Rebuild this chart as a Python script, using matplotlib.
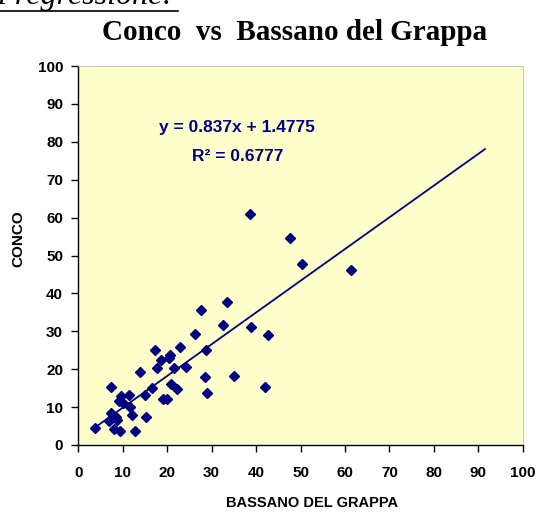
import numpy as np
import matplotlib.pyplot as plt
from matplotlib.lines import Line2D

# --- data ---
bassano = [3.75, 7.3, 7.0, 7.4, 7.8, 8.0, 8.5, 8.8, 9.4, 9.1, 9.5, 10.1,
           11.5, 11.7, 12.1, 12.8, 13.9, 14.9, 15.2, 16.5, 17.3, 17.6, 18.5,
           19.1, 20.0, 20.3, 20.6, 20.9, 21.5, 22.3, 22.8, 24.3, 26.2, 27.6,
           28.4, 28.8, 29.0, 32.6, 33.5, 35.0, 38.9, 38.6, 47.6, 50.4, 61.4,
           42.7, 42.0]
conco = [4.6, 15.4, 6.3, 8.5, 7.6, 4.2, 7.5, 6.6, 3.7, 11.5, 12.8, 11.2,
         13.1, 10.0, 7.8, 3.7, 19.3, 13.3, 7.5, 15.0, 25.0, 20.3, 22.3,
         12.2, 12.2, 22.9, 23.7, 16.2, 20.2, 14.9, 25.8, 20.7, 29.4, 35.6,
         17.9, 25.0, 13.8, 31.7, 37.6, 18.1, 31.1, 61.0, 54.7, 47.8, 46.1,
         28.9, 15.3]

slope, intercept = 0.837, 1.4775
r2 = 0.6777
trend_x_end = 91.5
ticks = list(range(0, 101, 10))

NAVY = '#000080'
SANS = 'Liberation Sans'

fig = plt.figure(figsize=(5.39, 5.12), dpi=100, facecolor='white')
ax = fig.add_axes([78.3 / 539, 1 - 445 / 512, (522.7 - 78.3) / 539, (445 - 66) / 512])
ax.set_facecolor('#FFFFCC')

# trend line
tx = np.array([min(bassano), trend_x_end])
ax.plot(tx, slope * tx + intercept, color=NAVY, lw=1.3, zorder=2)

# points
ax.plot(bassano, conco, linestyle='none', marker='D', ms=4.6,
        color=NAVY, zorder=3)

ax.text(35.8, 83.8, f"y = {slope}x + {intercept}", color=NAVY, fontsize=12.5,
        fontweight='bold', family=SANS, ha='center', va='center')
ax.text(35.8, 76.0, f"R\u00b2 = {r2}", color=NAVY, fontsize=12.5,
        fontweight='bold', family=SANS, ha='center', va='center')

ax.set_xlim(0, 100)
ax.set_ylim(0, 100)
ax.set_xticks(ticks)
ax.set_yticks(ticks)
for lab in ax.get_xticklabels() + ax.get_yticklabels():
    lab.set_fontfamily(SANS)
    lab.set_fontweight('bold')
    lab.set_fontsize(11)
ax.tick_params(direction='out', length=5, width=1, color='black', pad=6)
ax.tick_params(axis='x', pad=10)

for side in ['left', 'bottom']:
    ax.spines[side].set_color('black')
    ax.spines[side].set_linewidth(1)
for side in ['top', 'right']:
    ax.spines[side].set_color('#bbbbbb')
    ax.spines[side].set_linewidth(0.6)

ax.set_xlabel('BASSANO DEL GRAPPA', fontsize=10.5, fontweight='bold', family=SANS)
ax.xaxis.set_label_coords(0.525, -0.135)
ax.set_ylabel('CONCO', fontsize=11, fontweight='bold', family=SANS)
ax.yaxis.set_label_coords(-0.12, 0.545)

# title and the clipped heading above it
fig.text(295 / 539, 1 - 32 / 512, 'Conco  vs  Bassano del Grappa',
         family='Liberation Serif', fontweight='bold', fontsize=21,
         ha='center', va='center')
fig.text(-2 / 539, 1 - 4 / 512, 'i regressione:', family='Liberation Serif',
         style='italic', fontsize=23, ha='left', va='baseline')
fig.add_artist(Line2D([0, 178 / 539], [1 - 11 / 512] * 2, color='black', lw=1.2))

fig.savefig('out.png', dpi=100, facecolor='white')
